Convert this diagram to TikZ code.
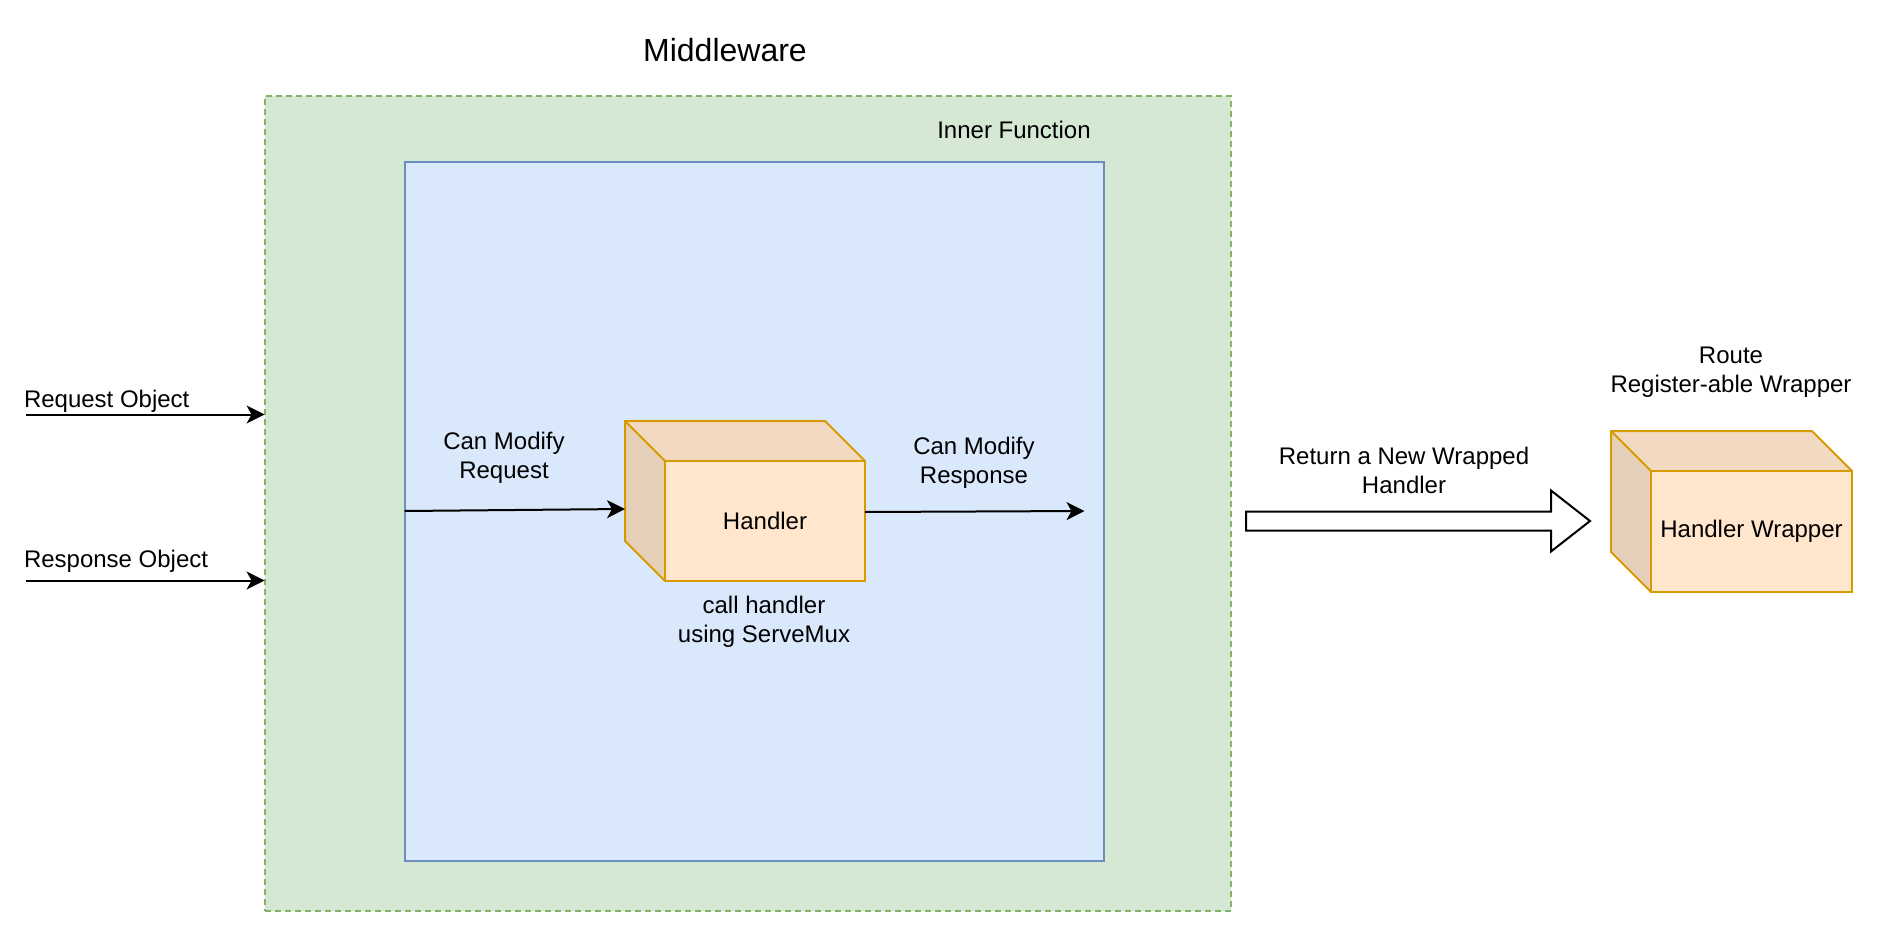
\documentclass[tikz,border=0pt]{standalone}
\usepackage{fontspec}
\setmainfont{Liberation Sans}
\usetikzlibrary{arrows.meta,calc}
\definecolor{greenfill}{HTML}{D5E8D4}
\definecolor{greenline}{HTML}{82B366}
\definecolor{bluefill}{HTML}{DAE8FC}
\definecolor{blueline}{HTML}{6C8EBF}
\definecolor{orfill}{HTML}{FFE6CC}
\definecolor{ortop}{HTML}{F2DAC2}
\definecolor{orside}{HTML}{E6CFB8}
\definecolor{orline}{HTML}{D79B00}
\begin{document}
\begin{tikzpicture}[x=1pt,y=-1pt,line width=2pt,
  lbl/.style={font=\fontsize{24}{28.8}\selectfont,align=center,inner sep=0pt},
  conn/.style={-{Stealth[length=18pt,width=18pt,inset=5pt]},line width=2pt},
  frontface/.style={draw=orline,fill=orfill,line width=2pt,outer sep=0pt,inner sep=0pt,
    font=\fontsize{24}{28.8}\selectfont},
  cubeface/.style={draw=orline,line width=2pt,line join=miter}]
\useasboundingbox (0,0) rectangle (1877,942);

% Middleware container
\node[draw=greenline,fill=greenfill,dash pattern=on 6pt off 4pt,outer sep=0pt,
  minimum width=966pt,minimum height=815pt] (mw) at (747.6,503.4) {};
\node[lbl,font=\fontsize{32}{38}\selectfont] (mwtitle) at (725,50) {Middleware};

% Inner function
\node[draw=blueline,fill=bluefill,outer sep=0pt,
  minimum width=699pt,minimum height=699pt] (inner) at (754,511) {};
\node[lbl] (innertitle) at (1014,130) {Inner Function};

% Handler cube
\node[frontface,minimum width=200pt,minimum height=120pt] (handler) at (765,521) {Handler};
\fill[ortop] (handler.north west) -- ++(-40,-40) -- ($(handler.north east)+(-40,-40)$) -- (handler.north east) -- cycle;
\fill[orside] (handler.north west) -- ++(-40,-40) -- ($(handler.south west)+(-40,-40)$) -- (handler.south west) -- cycle;
\draw[cubeface] (handler.south west) -- ++(-40,-40) -- ++(0,-120) -- ++(200,0) -- (handler.north east);
\draw[cubeface] ($(handler.north west)+(-40,-40)$) -- (handler.north west);
\draw[cubeface] (handler.north west) rectangle (handler.south east);

% Handler wrapper cube
\node[frontface,minimum width=201pt,minimum height=121pt] (wrap) at (1751.5,531.5) {Handler Wrapper};
\fill[ortop] (wrap.north west) -- ++(-40,-40) -- ($(wrap.north east)+(-40,-40)$) -- (wrap.north east) -- cycle;
\fill[orside] (wrap.north west) -- ++(-40,-40) -- ($(wrap.south west)+(-40,-40)$) -- (wrap.south west) -- cycle;
\draw[cubeface] (wrap.south west) -- ++(-40,-40) -- ++(0,-121) -- ++(201,0) -- (wrap.north east);
\draw[cubeface] ($(wrap.north west)+(-40,-40)$) -- (wrap.north west);
\draw[cubeface] (wrap.north west) rectangle (wrap.south east);

% Labels
\node[lbl] (canreq) at (504,457.5) {Can Modify\\Request};
\node[lbl] (canresp) at (974,462.5) {Can Modify\\Response};
\node[lbl] (callh) at (764,622) {call handler\\using ServeMux};
\node[lbl] (retlbl) at (1404,470.5) {Return a New Wrapped\\Handler};
\node[lbl] (route) at (1731,372) {Route\\Register-able Wrapper};
\node[lbl,anchor=west] (reqlbl) at (23,401) {Request Object};
\node[lbl,anchor=west] (resplbl) at (23,561) {Response Object};

% Connectors
\coordinate (reqs) at (26,414.5);
\coordinate (resps) at (26,580.5);
\draw[conn] (reqs) -- (reqs -| mw.west);
\draw[conn] (resps) -- (resps -| mw.west);

\coordinate (ins) at (404.6,511);
\coordinate (ine) at (625,509);
\draw[conn] (ins) -- (ine);

\coordinate (outs) at (865,512);
\coordinate (oute) at (1084.5,511);
\draw[conn] (outs) -- (oute);

% Big hollow arrow
\draw[fill=white,line width=2pt,line join=miter]
  (1246,511.5) -- (1551,511.5) -- (1551,490.5) -- (1590,521) -- (1551,551.5)
  -- (1551,530.5) -- (1246,530.5) -- cycle;
\end{tikzpicture}
\end{document}
